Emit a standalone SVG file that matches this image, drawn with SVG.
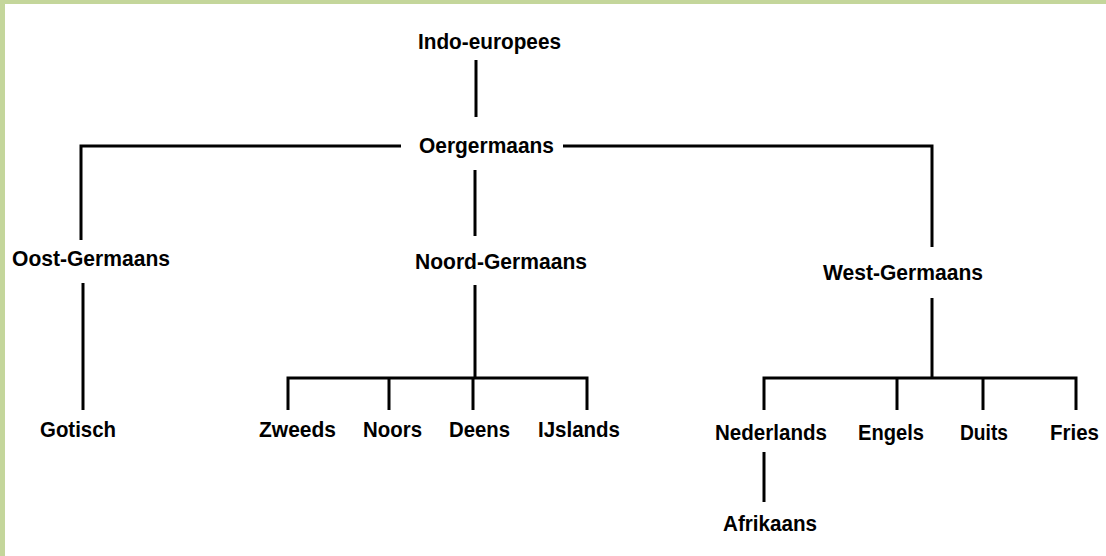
<svg xmlns="http://www.w3.org/2000/svg" width="1106" height="556" viewBox="0 0 1106 556">
<style>
.t{font-family:"Liberation Sans",Arial,sans-serif;font-weight:bold;font-size:22px;fill:#000}
.c{stroke:#000;stroke-width:3;fill:none;stroke-linecap:butt}
</style>
<rect x="0" y="0" width="1106" height="556" fill="#fff"/>
<rect x="0" y="0" width="1106" height="4" fill="#c4d69b"/>
<rect x="0" y="0" width="5" height="556" fill="#c4d69b"/>
<g id="connectors" class="c">
<path d="M476 60V117"/>
<path d="M401 146H81V240"/>
<path d="M563 146H932V247"/>
<path d="M475 170V236"/>
<path d="M83 283V410"/>
<path d="M475 285V378"/>
<path d="M288 410V378H587V410"/>
<path d="M389 378V410"/>
<path d="M473 378V410"/>
<path d="M932 298V378"/>
<path d="M764 410V378H1076V410"/>
<path d="M897 378V410"/>
<path d="M983 378V410"/>
<path d="M764 452V502"/>
</g>
<g id="indo-europees"><text class="t" x="418" y="49" textLength="143" lengthAdjust="spacingAndGlyphs">Indo-europees</text></g>
<g id="oergermaans"><text class="t" x="419" y="153" textLength="135" lengthAdjust="spacingAndGlyphs">Oergermaans</text></g>
<g id="oost-germaans"><text class="t" x="12" y="266" textLength="158" lengthAdjust="spacingAndGlyphs">Oost-Germaans</text></g>
<g id="noord-germaans"><text class="t" x="415" y="269" textLength="172" lengthAdjust="spacingAndGlyphs">Noord-Germaans</text></g>
<g id="west-germaans"><text class="t" x="823" y="280" textLength="160" lengthAdjust="spacingAndGlyphs">West-Germaans</text></g>
<g id="gotisch"><text class="t" x="40" y="437" textLength="76" lengthAdjust="spacingAndGlyphs">Gotisch</text></g>
<g id="zweeds"><text class="t" x="259" y="437" textLength="77" lengthAdjust="spacingAndGlyphs">Zweeds</text></g>
<g id="noors"><text class="t" x="363" y="437" textLength="59" lengthAdjust="spacingAndGlyphs">Noors</text></g>
<g id="deens"><text class="t" x="449" y="437" textLength="61" lengthAdjust="spacingAndGlyphs">Deens</text></g>
<g id="ijslands"><text class="t" x="538" y="437" textLength="82" lengthAdjust="spacingAndGlyphs">IJslands</text></g>
<g id="nederlands"><text class="t" x="715" y="440" textLength="112" lengthAdjust="spacingAndGlyphs">Nederlands</text></g>
<g id="engels"><text class="t" x="858" y="440" textLength="66" lengthAdjust="spacingAndGlyphs">Engels</text></g>
<g id="duits"><text class="t" x="960" y="440" textLength="48" lengthAdjust="spacingAndGlyphs">Duits</text></g>
<g id="fries"><text class="t" x="1050" y="440" textLength="49" lengthAdjust="spacingAndGlyphs">Fries</text></g>
<g id="afrikaans"><text class="t" x="723" y="531" textLength="94" lengthAdjust="spacingAndGlyphs">Afrikaans</text></g>
</svg>
